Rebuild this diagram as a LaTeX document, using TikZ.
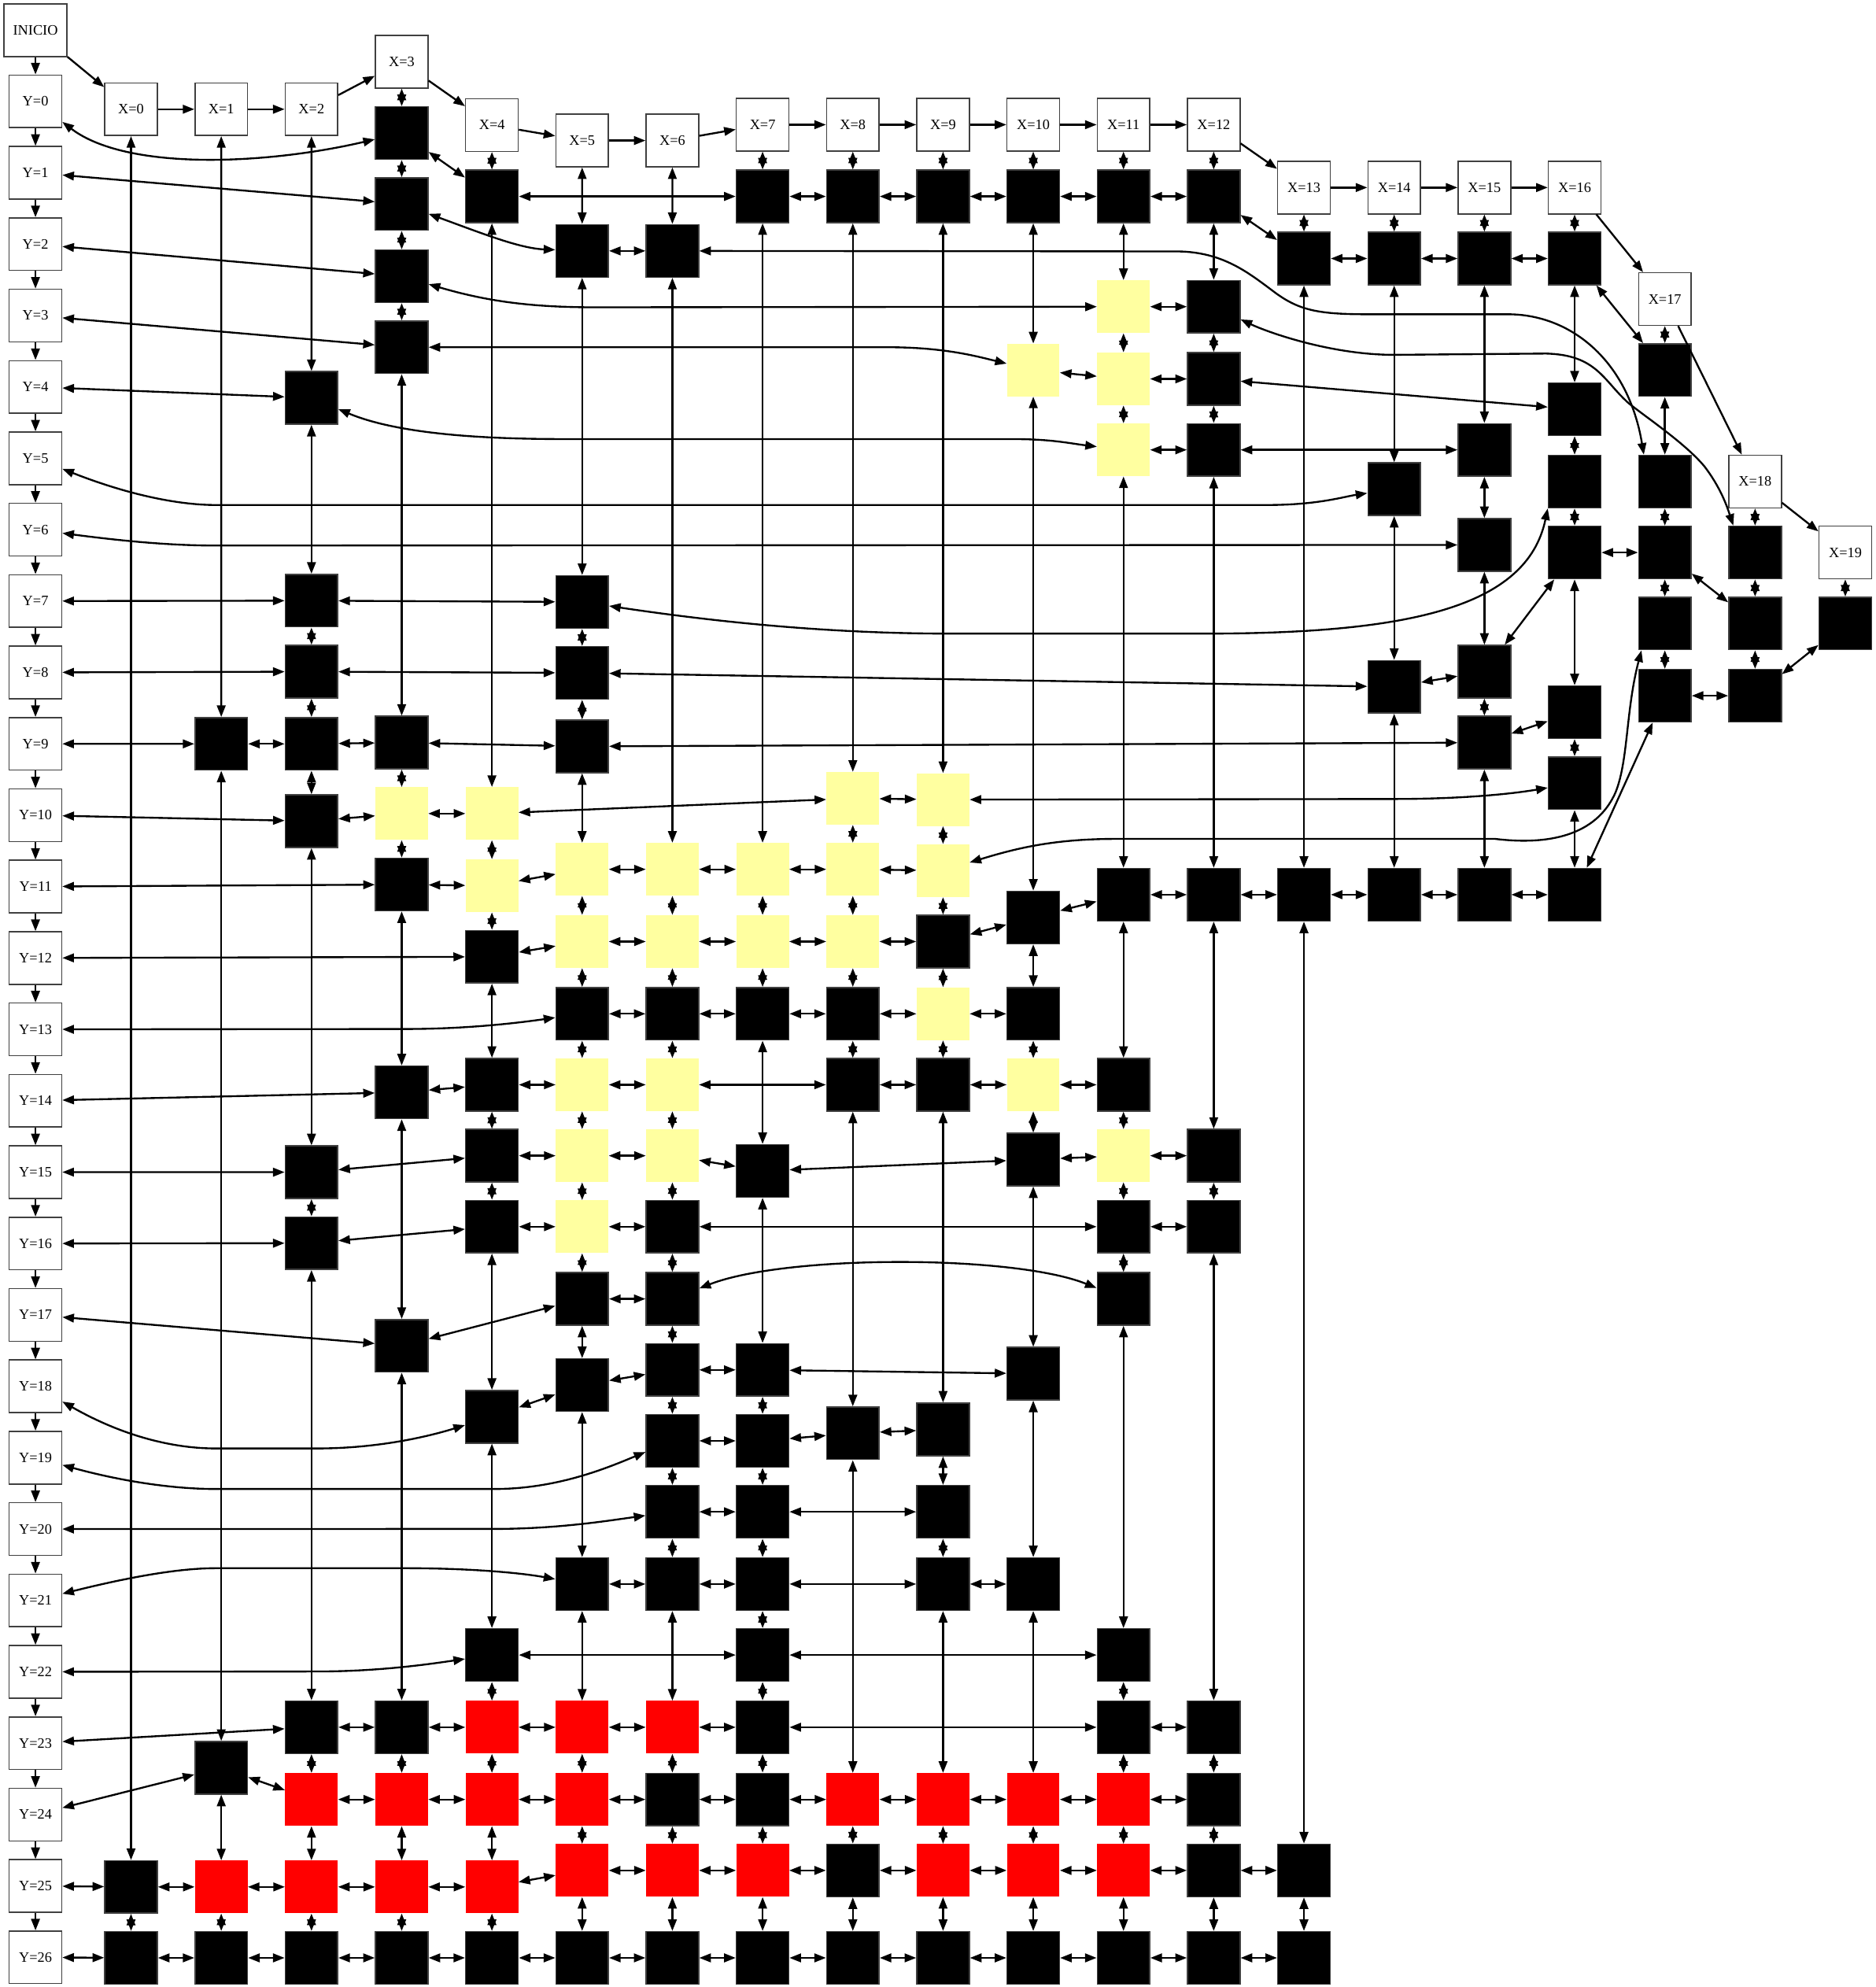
\documentclass[tikz,border=0pt]{standalone}
\usepackage{fontspec}
\setmainfont{Liberation Serif}
\usetikzlibrary{arrows.meta}
\definecolor{yelc}{RGB}{255,255,160}
\newcommand\gn[3]{\node[#3] (c#1r#2) at ({103.4+71.2*#1},#2) {};}
\begin{document}
\begin{tikzpicture}[x=0.3mm,y=-0.3mm,
  >={Triangle[length=7.8pt,width=5.8pt]},
  lbl/.style={draw=black!75,line width=0.8pt,fill=white,minimum width=12.45mm,minimum height=12.45mm,inner sep=0pt,font=\fontsize{9.7}{11}\selectfont},
  blk/.style={draw=black!75,line width=0.8pt,fill=black,minimum width=12.45mm,minimum height=12.45mm,inner sep=0pt},
  yel/.style={fill=yelc,minimum width=12.45mm,minimum height=12.45mm,inner sep=0pt},
  rd/.style={fill=red,minimum width=12.45mm,minimum height=12.45mm,inner sep=0pt},
  gvboth/.style={line width=1.25pt,<->},
  gvone/.style={line width=1.25pt,->}]
\fill[white] (0,0) rectangle (1480,1568);
\useasboundingbox (0,0) rectangle (1480,1568);

% ---------- label boxes ----------
\node[lbl,minimum width=14.9mm] (INICIO) at (28,24) {INICIO};
\foreach \i in {0,...,26} \node[lbl] (Y\i) at (28,{80+56.33*\i}) {Y=\i};
\node[lbl] (H0) at (103.4,86.2) {X=0};
\node[lbl] (H1) at (174.6,86.2) {X=1};
\node[lbl] (H2) at (245.8,86.2) {X=2};
\node[lbl] (H3) at (317.0,48.7) {X=3};
\node[lbl] (H4) at (388.2,98.7) {X=4};
\node[lbl] (H5) at (459.4,110.9) {X=5};
\node[lbl] (H6) at (530.6,110.9) {X=6};
\node[lbl] (H7) at (601.8,98.4) {X=7};
\node[lbl] (H8) at (673.0,98.4) {X=8};
\node[lbl] (H9) at (744.2,98.4) {X=9};
\node[lbl] (H10) at (815.4,98.4) {X=10};
\node[lbl] (H11) at (886.6,98.4) {X=11};
\node[lbl] (H12) at (957.8,98.4) {X=12};
\node[lbl] (H13) at (1029.0,148) {X=13};
\node[lbl] (H14) at (1100.2,148) {X=14};
\node[lbl] (H15) at (1171.4,148) {X=15};
\node[lbl] (H16) at (1242.6,148) {X=16};
\node[lbl] (H17) at (1313.8,236) {X=17};
\node[lbl] (H18) at (1385.0,380) {X=18};
\node[lbl] (H19) at (1456.2,436) {X=19};

% ---------- grid nodes ----------
\gn{0}{1489}{blk} \gn{0}{1545}{blk}
\gn{1}{587}{blk} \gn{1}{1395}{blk} \gn{1}{1489}{rd} \gn{1}{1545}{blk}
\gn{2}{314}{blk} \gn{2}{474}{blk} \gn{2}{530}{blk} \gn{2}{587}{blk} \gn{2}{648}{blk} \gn{2}{925}{blk} \gn{2}{981}{blk} \gn{2}{1363}{blk} \gn{2}{1420}{rd} \gn{2}{1489}{rd} \gn{2}{1545}{blk}
\gn{3}{105}{blk} \gn{3}{161}{blk} \gn{3}{218}{blk} \gn{3}{274}{blk} \gn{3}{586}{blk} \gn{3}{642}{yel} \gn{3}{698}{blk} \gn{3}{862}{blk} \gn{3}{1062}{blk} \gn{3}{1363}{blk} \gn{3}{1420}{rd} \gn{3}{1489}{rd} \gn{3}{1545}{blk}
\gn{4}{155}{blk} \gn{4}{642}{yel} \gn{4}{699}{yel} \gn{4}{755}{blk} \gn{4}{856}{blk} \gn{4}{912}{blk} \gn{4}{968}{blk} \gn{4}{1118}{blk} \gn{4}{1306}{blk} \gn{4}{1363}{rd} \gn{4}{1420}{rd} \gn{4}{1489}{rd} \gn{4}{1545}{blk}
\gn{5}{198}{blk} \gn{5}{475}{blk} \gn{5}{531}{blk} \gn{5}{589}{blk} \gn{5}{686}{yel} \gn{5}{743}{yel} \gn{5}{800}{blk} \gn{5}{856}{yel} \gn{5}{912}{yel} \gn{5}{968}{yel} \gn{5}{1025}{blk} \gn{5}{1093}{blk} \gn{5}{1250}{blk} \gn{5}{1363}{rd} \gn{5}{1420}{rd} \gn{5}{1476}{rd} \gn{5}{1545}{blk}
\gn{6}{198}{blk} \gn{6}{686}{yel} \gn{6}{743}{yel} \gn{6}{800}{blk} \gn{6}{856}{yel} \gn{6}{912}{yel} \gn{6}{968}{blk} \gn{6}{1025}{blk} \gn{6}{1081}{blk} \gn{6}{1137}{blk} \gn{6}{1193}{blk} \gn{6}{1250}{blk} \gn{6}{1363}{rd} \gn{6}{1420}{blk} \gn{6}{1476}{rd} \gn{6}{1545}{blk}
\gn{7}{155}{blk} \gn{7}{686}{yel} \gn{7}{743}{yel} \gn{7}{800}{blk} \gn{7}{924}{blk} \gn{7}{1081}{blk} \gn{7}{1137}{blk} \gn{7}{1193}{blk} \gn{7}{1250}{blk} \gn{7}{1306}{blk} \gn{7}{1363}{blk} \gn{7}{1420}{blk} \gn{7}{1476}{rd} \gn{7}{1545}{blk}
\gn{8}{155}{blk} \gn{8}{630}{yel} \gn{8}{686}{yel} \gn{8}{743}{yel} \gn{8}{800}{blk} \gn{8}{856}{blk} \gn{8}{1131}{blk} \gn{8}{1420}{rd} \gn{8}{1476}{blk} \gn{8}{1545}{blk}
\gn{9}{155}{blk} \gn{9}{631}{yel} \gn{9}{687}{yel} \gn{9}{743}{blk} \gn{9}{800}{yel} \gn{9}{856}{blk} \gn{9}{1128}{blk} \gn{9}{1193}{blk} \gn{9}{1250}{blk} \gn{9}{1420}{rd} \gn{9}{1476}{rd} \gn{9}{1545}{blk}
\gn{10}{155}{blk} \gn{10}{292}{yel} \gn{10}{724}{blk} \gn{10}{800}{blk} \gn{10}{856}{yel} \gn{10}{915}{blk} \gn{10}{1084}{blk} \gn{10}{1250}{blk} \gn{10}{1420}{rd} \gn{10}{1476}{rd} \gn{10}{1545}{blk}
\gn{11}{155}{blk} \gn{11}{242}{yel} \gn{11}{299}{yel} \gn{11}{355}{yel} \gn{11}{706}{blk} \gn{11}{856}{blk} \gn{11}{912}{yel} \gn{11}{968}{blk} \gn{11}{1025}{blk} \gn{11}{1306}{blk} \gn{11}{1363}{blk} \gn{11}{1420}{rd} \gn{11}{1476}{rd} \gn{11}{1545}{blk}
\gn{12}{155}{blk} \gn{12}{242}{blk} \gn{12}{299}{blk} \gn{12}{355}{blk} \gn{12}{706}{blk} \gn{12}{912}{blk} \gn{12}{968}{blk} \gn{12}{1363}{blk} \gn{12}{1420}{blk} \gn{12}{1476}{blk} \gn{12}{1545}{blk}
\gn{13}{204}{blk} \gn{13}{706}{blk} \gn{13}{1476}{blk} \gn{13}{1545}{blk}
\gn{14}{204}{blk} \gn{14}{386}{blk} \gn{14}{542}{blk} \gn{14}{706}{blk}
\gn{15}{204}{blk} \gn{15}{355}{blk} \gn{15}{430}{blk} \gn{15}{530}{blk} \gn{15}{586}{blk} \gn{15}{706}{blk}
\gn{16}{204}{blk} \gn{16}{323}{blk} \gn{16}{380}{blk} \gn{16}{436}{blk} \gn{16}{562}{blk} \gn{16}{618}{blk} \gn{16}{706}{blk}
\gn{17}{292}{blk} \gn{17}{380}{blk} \gn{17}{436}{blk} \gn{17}{492}{blk} \gn{17}{549}{blk}
\gn{18}{436}{blk} \gn{18}{492}{blk} \gn{18}{549}{blk}
\gn{19}{492}{blk}

% ---------- single arrows: chains ----------
\draw[gvone] (INICIO) -- (Y0);
\draw[gvone] (INICIO) -- (H0);
\foreach \i [evaluate=\i as \j using int(\i+1)] in {0,...,25} \draw[gvone] (Y\i) -- (Y\j);
\foreach \i [evaluate=\i as \j using int(\i+1)] in {0,...,18} \draw[gvone] (H\i) -- (H\j);

% ---------- vertical double edges ----------
\foreach \a/\b in {H0/c0r1489, c0r1489/c0r1545,
 H1/c1r587, c1r587/c1r1395, c1r1395/c1r1489, c1r1489/c1r1545,
 H2/c2r314, c2r314/c2r474, c2r474/c2r530, c2r530/c2r587, c2r587/c2r648, c2r648/c2r925, c2r925/c2r981, c2r981/c2r1363, c2r1363/c2r1420, c2r1420/c2r1489, c2r1489/c2r1545,
 H3/c3r105, c3r105/c3r161, c3r161/c3r218, c3r218/c3r274, c3r274/c3r586, c3r586/c3r642, c3r642/c3r698, c3r698/c3r862, c3r862/c3r1062, c3r1062/c3r1363, c3r1363/c3r1420, c3r1420/c3r1489, c3r1489/c3r1545,
 H4/c4r155, c4r155/c4r642, c4r642/c4r699, c4r699/c4r755, c4r755/c4r856, c4r856/c4r912, c4r912/c4r968, c4r968/c4r1118, c4r1118/c4r1306, c4r1306/c4r1363, c4r1363/c4r1420, c4r1420/c4r1489, c4r1489/c4r1545,
 H5/c5r198, c5r198/c5r475, c5r475/c5r531, c5r531/c5r589, c5r589/c5r686, c5r686/c5r743, c5r743/c5r800, c5r800/c5r856, c5r856/c5r912, c5r912/c5r968, c5r968/c5r1025, c5r1025/c5r1093, c5r1093/c5r1250, c5r1250/c5r1363, c5r1363/c5r1420, c5r1420/c5r1476, c5r1476/c5r1545,
 H6/c6r198, c6r198/c6r686, c6r686/c6r743, c6r743/c6r800, c6r800/c6r856, c6r856/c6r912, c6r912/c6r968, c6r968/c6r1025, c6r1025/c6r1081, c6r1081/c6r1137, c6r1137/c6r1193, c6r1193/c6r1250, c6r1250/c6r1363, c6r1363/c6r1420, c6r1420/c6r1476, c6r1476/c6r1545,
 H7/c7r155, c7r155/c7r686, c7r686/c7r743, c7r743/c7r800, c7r800/c7r924, c7r924/c7r1081, c7r1081/c7r1137, c7r1137/c7r1193, c7r1193/c7r1250, c7r1250/c7r1306, c7r1306/c7r1363, c7r1363/c7r1420, c7r1420/c7r1476, c7r1476/c7r1545,
 H8/c8r155, c8r155/c8r630, c8r630/c8r686, c8r686/c8r743, c8r743/c8r800, c8r800/c8r856, c8r856/c8r1131, c8r1131/c8r1420, c8r1420/c8r1476, c8r1476/c8r1545,
 H9/c9r155, c9r155/c9r631, c9r631/c9r687, c9r687/c9r743, c9r743/c9r800, c9r800/c9r856, c9r856/c9r1128, c9r1128/c9r1193, c9r1193/c9r1250, c9r1250/c9r1420, c9r1420/c9r1476, c9r1476/c9r1545,
 H10/c10r155, c10r155/c10r292, c10r292/c10r724, c10r724/c10r800, c10r800/c10r856, c10r856/c10r915, c10r915/c10r1084, c10r1084/c10r1250, c10r1250/c10r1420, c10r1420/c10r1476, c10r1476/c10r1545,
 H11/c11r155, c11r155/c11r242, c11r242/c11r299, c11r299/c11r355, c11r355/c11r706, c11r706/c11r856, c11r856/c11r912, c11r912/c11r968, c11r968/c11r1025, c11r1025/c11r1306, c11r1306/c11r1363, c11r1363/c11r1420, c11r1420/c11r1476, c11r1476/c11r1545,
 H12/c12r155, c12r155/c12r242, c12r242/c12r299, c12r299/c12r355, c12r355/c12r706, c12r706/c12r912, c12r912/c12r968, c12r968/c12r1363, c12r1363/c12r1420, c12r1420/c12r1476, c12r1476/c12r1545,
 H13/c13r204, c13r204/c13r706, c13r706/c13r1476, c13r1476/c13r1545,
 H14/c14r204, c14r204/c14r386, c14r386/c14r542, c14r542/c14r706,
 H15/c15r204, c15r204/c15r355, c15r355/c15r430, c15r430/c15r530, c15r530/c15r586, c15r586/c15r706,
 H16/c16r204, c16r204/c16r323, c16r323/c16r380, c16r380/c16r436, c16r436/c16r562, c16r562/c16r618, c16r618/c16r706,
 H17/c17r292, c17r292/c17r380, c17r380/c17r436, c17r436/c17r492, c17r492/c17r549,
 H18/c18r436, c18r436/c18r492, c18r492/c18r549,
 H19/c19r492}
 \draw[gvboth] (\a) -- (\b);

% ---------- straight row edges ----------
\foreach \a/\b in {c3r105/c4r155, c4r155/c7r155, c7r155/c8r155, c8r155/c9r155, c9r155/c10r155, c10r155/c11r155, c11r155/c12r155, c12r155/c13r204, c13r204/c14r204, c14r204/c15r204, c15r204/c16r204, c16r204/c17r292,
 Y1/c3r161, c5r198/c6r198,
 Y2/c3r218, c11r242/c12r242,
 Y3/c3r274, c10r292/c11r299, c11r299/c12r299, c12r299/c16r323,
 Y4/c2r314, c11r355/c12r355, c12r355/c15r355,
 Y7/c2r474, c2r474/c5r475,
 Y8/c2r530, c2r530/c5r531, c5r531/c14r542, c14r542/c15r530, c15r530/c16r436, c16r436/c17r436, c17r436/c18r492,
 Y9/c1r587, c1r587/c2r587, c2r587/c3r586, c3r586/c5r589, c5r589/c15r586, c15r586/c16r562,
 Y10/c2r648, c2r648/c3r642, c3r642/c4r642, c4r642/c8r630, c8r630/c9r631,
 Y11/c3r698, c3r698/c4r699, c4r699/c5r686, c5r686/c6r686, c6r686/c7r686, c7r686/c8r686, c8r686/c9r687,
 Y12/c4r755, c4r755/c5r743, c5r743/c6r743, c6r743/c7r743, c7r743/c8r743, c8r743/c9r743, c9r743/c10r724, c10r724/c11r706, c11r706/c12r706, c12r706/c13r706, c13r706/c14r706, c14r706/c15r706, c15r706/c16r706, c16r706/c17r549, c17r549/c18r549, c18r549/c19r492,
 c5r800/c6r800, c6r800/c7r800, c7r800/c8r800, c8r800/c9r800, c9r800/c10r800,
 Y14/c3r862, c3r862/c4r856, c4r856/c5r856, c5r856/c6r856, c6r856/c8r856, c8r856/c9r856, c9r856/c10r856, c10r856/c11r856,
 Y15/c2r925, c2r925/c4r912, c4r912/c5r912, c5r912/c6r912, c6r912/c7r924, c7r924/c10r915, c10r915/c11r912, c11r912/c12r912,
 Y16/c2r981, c2r981/c4r968, c4r968/c5r968, c5r968/c6r968, c6r968/c11r968, c11r968/c12r968,
 Y17/c3r1062, c3r1062/c5r1025, c5r1025/c6r1025,
 c4r1118/c5r1093, c5r1093/c6r1081, c6r1081/c7r1081, c7r1081/c10r1084,
 c6r1137/c7r1137, c7r1137/c8r1131, c8r1131/c9r1128,
 c6r1193/c7r1193, c7r1193/c9r1193,
 c5r1250/c6r1250, c6r1250/c7r1250, c7r1250/c9r1250, c9r1250/c10r1250,
 c4r1306/c7r1306, c7r1306/c11r1306,
 Y23/c2r1363, c2r1363/c3r1363, c3r1363/c4r1363, c4r1363/c5r1363, c5r1363/c6r1363, c6r1363/c7r1363, c7r1363/c11r1363, c11r1363/c12r1363,
 Y24/c1r1395, c1r1395/c2r1420, c2r1420/c3r1420, c3r1420/c4r1420, c4r1420/c5r1420, c5r1420/c6r1420, c6r1420/c7r1420, c7r1420/c8r1420, c8r1420/c9r1420, c9r1420/c10r1420, c10r1420/c11r1420, c11r1420/c12r1420,
 Y25/c0r1489, c0r1489/c1r1489, c1r1489/c2r1489, c2r1489/c3r1489, c3r1489/c4r1489, c4r1489/c5r1476, c5r1476/c6r1476, c6r1476/c7r1476, c7r1476/c8r1476, c8r1476/c9r1476, c9r1476/c10r1476, c10r1476/c11r1476, c11r1476/c12r1476, c12r1476/c13r1476,
 Y26/c0r1545}
 \draw[gvboth] (\a) -- (\b);
\foreach \i [evaluate=\i as \j using int(\i+1)] in {0,...,12} \draw[gvboth] (c\i r1545) -- (c\j r1545);

% ---------- curved edges ----------
\draw[gvboth] (Y0) .. controls (100,135) and (210,130) .. (c3r105);
\draw[gvboth] (c3r161) .. controls (380,184) and (410,196) .. (c5r198);
\draw[gvboth] (c6r198) -- (930,198.4) .. controls (965,199) and (985,215) .. (1005,230) .. controls (1025,245) and (1040,248) .. (1080,248) -- (1190,248) .. controls (1240,248) and (1285,285) .. (c17r380.128);
\draw[gvboth] (c3r218) .. controls (385,238) and (420,242.5) .. (470,242.5) -- (c11r242);
\draw[gvboth] (c12r242) .. controls (1000,262) and (1050,280) .. (1100,280) -- (1220,279) .. controls (1260,280) and (1265,300) .. (1285,318) .. controls (1300,330) and (1330,350) .. (1345,368) .. controls (1358,385) and (1363,400) .. (c18r436.129);
\draw[gvboth] (c3r274) -- (700,274) .. controls (745,274) and (770,281) .. (c10r292);
\draw[gvboth] (c2r314) .. controls (320,345) and (400,346.5) .. (450,346.5) -- (800,346.5) .. controls (830,346.5) and (845,350) .. (c11r355);
\draw[gvboth] (Y5) .. controls (100,390) and (140,398.5) .. (170,398.5) -- (1000,398.5) .. controls (1040,398.5) and (1060,392) .. (c14r386);
\draw[gvboth] (Y6) .. controls (90,426) and (130,430.5) .. (170,430.5) -- (c15r430);
\draw[gvboth] (c5r475) .. controls (560,490) and (650,500) .. (750,500) -- (950,500) .. controls (1110,500) and (1205,480) .. (c16r380.south west);
\draw[gvboth] (c9r631) -- (1100,630.5) .. controls (1150,630.5) and (1190,627) .. (c16r618);
\draw[gvboth] (c9r687) .. controls (800,670) and (830,662) .. (880,662) -- (1180,662) .. controls (1230,668) and (1262,655) .. (1275,625) .. controls (1285,600) and (1283,560) .. (c17r492.-131);
\draw[gvboth] (Y13) -- (320,812) .. controls (370,812) and (410,807) .. (c5r800);
\draw[gvboth] (c6r1025) .. controls (620,990) and (800,990) .. (c11r1025);
\draw[gvboth] (Y18) .. controls (100,1135) and (140,1143) .. (170,1143) -- (250,1143) .. controls (300,1143) and (340,1133) .. (c4r1118);
\draw[gvboth] (Y19) .. controls (100,1170) and (140,1175) .. (170,1175) -- (390,1175) .. controls (440,1175) and (480,1158) .. (c6r1137);
\draw[gvboth] (Y20) -- (390,1206.5) .. controls (440,1206.5) and (480,1200) .. (c6r1193);
\draw[gvboth] (Y21) .. controls (100,1245) and (140,1237.5) .. (170,1237.5) -- (320,1237.5) .. controls (370,1237.5) and (410,1241) .. (c5r1250);
\draw[gvboth] (Y22) -- (250,1319) .. controls (300,1319) and (340,1313) .. (c4r1306);
\end{tikzpicture}
\end{document}
